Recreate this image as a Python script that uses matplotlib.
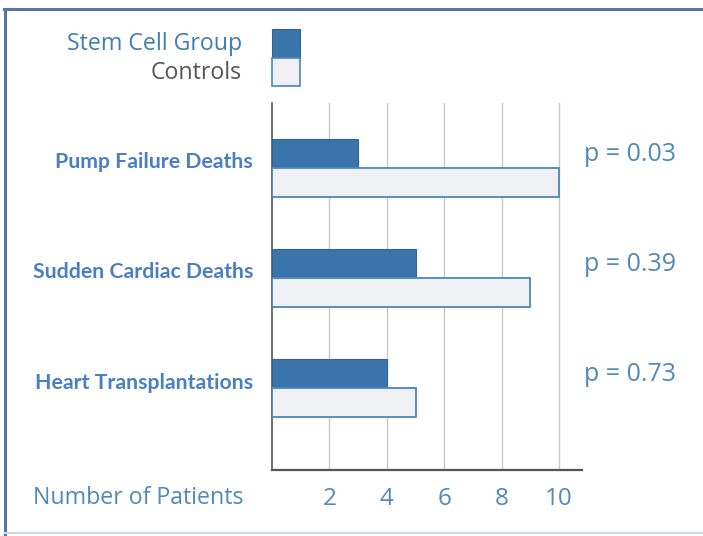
import matplotlib.pyplot as plt
from matplotlib.patches import Rectangle
from matplotlib.lines import Line2D

categories = ['Pump Failure Deaths', 'Sudden Cardiac Deaths', 'Heart Transplantations']
stem_cell = [3, 5, 4]
controls = [10, 9, 5]
p_values = ['p = 0.03', 'p = 0.39', 'p = 0.73']
ticks = [2, 4, 6, 8, 10]
series_names = ['Stem Cell Group', 'Controls']

dark_blue = '#3a74ab'
light_fill = '#eef0f4'
edge_blue = '#4d86bd'
label_blue = '#4a7fc2'
text_blue = '#5189b9'

W, H = 703, 536
fig = plt.figure(figsize=(7.03, 5.36), dpi=100)
ax = fig.add_axes([272 / W, 66 / H, 310 / W, 367 / H])

h = 0.265
y = list(range(len(categories)))
ax.barh([i - h / 2 for i in y], stem_cell, height=h, color=dark_blue,
        edgecolor='#2f6597', linewidth=0.8, zorder=3)
ax.barh([i + h / 2 for i in y], controls, height=h, color=light_fill,
        edgecolor=edge_blue, linewidth=1.3, zorder=3)

ax.set_xlim(0, 10.8)
ax.set_ylim(2.745, -0.59)
for t in ticks:
    ax.axvline(t, color='#c8c8c8', linewidth=1.0, zorder=1)

ax.set_xticks(ticks)
ax.set_xticklabels([str(t) for t in ticks], fontsize=17.5, color=text_blue,
                   family='Open Sans')
ax.tick_params(axis='x', length=0, pad=12)
ax.set_yticks([])
for s in ['top', 'right']:
    ax.spines[s].set_visible(False)
ax.spines['left'].set_color('#555555')
ax.spines['bottom'].set_color('#555555')
ax.spines['left'].set_linewidth(1.2)
ax.spines['bottom'].set_linewidth(1.6)

for i, name in enumerate(categories):
    ax.text(-0.66, i - 0.05, name, ha='right', va='center', fontsize=15.3,
            fontweight='bold', color=label_blue, family='Lato', clip_on=False)
    ax.text(10.87, i - 0.12, p_values[i], ha='left', va='center', fontsize=18,
            color=text_blue, family='Open Sans', clip_on=False)

fig.text(33 / W, (H - 498) / H, 'Number of Patients', ha='left', va='center',
         fontsize=16.7, color=text_blue, family='Open Sans')

# legend drawn by hand in figure pixels
fig.patches.append(Rectangle((272 / W, (H - 58) / H), 28 / W, 29 / H,
                             facecolor=dark_blue, edgecolor='#2f6597',
                             linewidth=0.8, transform=fig.transFigure))
fig.patches.append(Rectangle((272 / W, (H - 86) / H), 28 / W, 28 / H,
                             facecolor=light_fill, edgecolor=edge_blue,
                             linewidth=1.2, transform=fig.transFigure))
fig.text(242 / W, (H - 44) / H, series_names[0], ha='right', va='center',
         fontsize=16.7, color='#3f7db3', family='Open Sans')
fig.text(242 / W, (H - 73) / H, series_names[1], ha='right', va='center',
         fontsize=16.7, color='#555555', family='Open Sans')

# outer frame
fig.add_artist(Line2D([5 / W, 5 / W], [0, (H - 9) / H], color='#5577a0',
                      linewidth=2.2, transform=fig.transFigure))
fig.add_artist(Line2D([4 / W, 1], [(H - 9) / H, (H - 9) / H], color='#5577a0',
                      linewidth=2.2, transform=fig.transFigure))
fig.add_artist(Line2D([5 / W, 1], [3 / H, 3 / H], color='#c9d9ea',
                      linewidth=1.5, transform=fig.transFigure))

fig.savefig('out.png', dpi=100)
